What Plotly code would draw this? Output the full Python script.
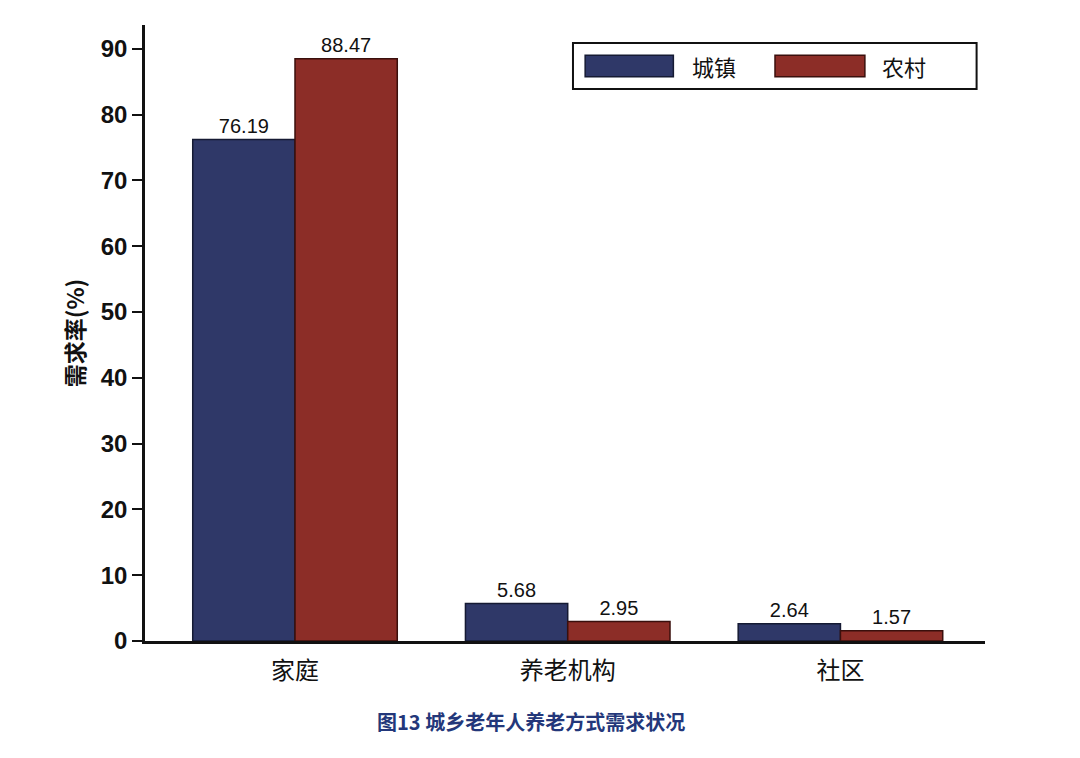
import plotly.graph_objects as go

categories = ["家庭", "养老机构", "社区"]
urban = [76.19, 5.68, 2.64]
rural = [88.47, 2.95, 1.57]
series_names = ["城镇", "农村"]
y_ticks = [0, 10, 20, 30, 40, 50, 60, 70, 80, 90]

FONT = "Liberation Sans, Arial, Noto Sans CJK SC, sans-serif"
CJK = "Noto Sans CJK SC, sans-serif"
c_urban = "#2f3868"
c_rural = "#8c2d27"
e_urban = "#151a33"
e_rural = "#3a0f0c"

fig = go.Figure()
fig.add_trace(go.Bar(
    x=categories, y=urban, name=series_names[0], showlegend=False,
    marker=dict(color=c_urban, line=dict(color=e_urban, width=1.5)),
    text=[f"{v:.2f}" for v in urban], textposition="outside",
    textfont=dict(size=20, color="#111", family=FONT), cliponaxis=False,
))
fig.add_trace(go.Bar(
    x=categories, y=rural, name=series_names[1], showlegend=False,
    marker=dict(color=c_rural, line=dict(color=e_rural, width=1.5)),
    text=[f"{v:.2f}" for v in rural], textposition="outside",
    textfont=dict(size=20, color="#111", family=FONT), cliponaxis=False,
))

# manual legend (box with wide swatches), in paper coordinates
shapes = [dict(type="rect", xref="paper", yref="paper", x0=0.5095, x1=0.990,
               y0=0.896, y1=0.9708, line=dict(color="#111", width=2), fillcolor="white")]
annotations = []
for nm, col, edge, sx0, sx1, tx in zip(series_names, [c_urban, c_rural], [e_urban, e_rural],
                                       [0.524, 0.750], [0.629, 0.857], [0.649, 0.875]):
    shapes.append(dict(type="rect", xref="paper", yref="paper", x0=sx0, x1=sx1,
                       y0=0.916, y1=0.951, line=dict(color=edge, width=1.5), fillcolor=col))
    annotations.append(dict(text=nm, xref="paper", yref="paper", x=tx, y=0.933,
                            xanchor="left", yanchor="middle", showarrow=False,
                            font=dict(size=22, family=CJK, color="#111")))

annotations.append(dict(
    text="图13 城乡老年人养老方式需求状况", xref="paper", yref="paper",
    x=0.46, y=-0.131, xanchor="center", yanchor="middle", showarrow=False,
    font=dict(size=20, family=CJK, color="#23377a", weight="bold"),
))

fig.update_layout(
    width=1080, height=758,
    paper_bgcolor="white", plot_bgcolor="white",
    margin=dict(l=137, r=103, t=17, b=125),
    barmode="group", bargap=0.25, bargroupgap=0,
    font=dict(family=FONT, color="#111"),
    showlegend=False,
    xaxis=dict(
        range=[-0.55, 2.53], showline=True, linecolor="#111", linewidth=2.5,
        ticks="", tickfont=dict(size=24, family=CJK, color="#111"),
        ticklabelstandoff=6,
        showgrid=False, zeroline=False,
    ),
    yaxis=dict(
        range=[0, 93.6], tickvals=y_ticks, showline=True, linecolor="#111",
        linewidth=2.5, ticks="outside", ticklen=10, tickwidth=2, tickcolor="#111",
        tickfont=dict(size=24, family=FONT, color="#111", weight="bold"),
        showgrid=False, zeroline=False,
        title=dict(text="需求率(%)", font=dict(size=23, family=CJK, color="#111", weight="bold"), standoff=10),
    ),
    shapes=shapes,
    annotations=annotations,
)
fig.write_html("out.html")
